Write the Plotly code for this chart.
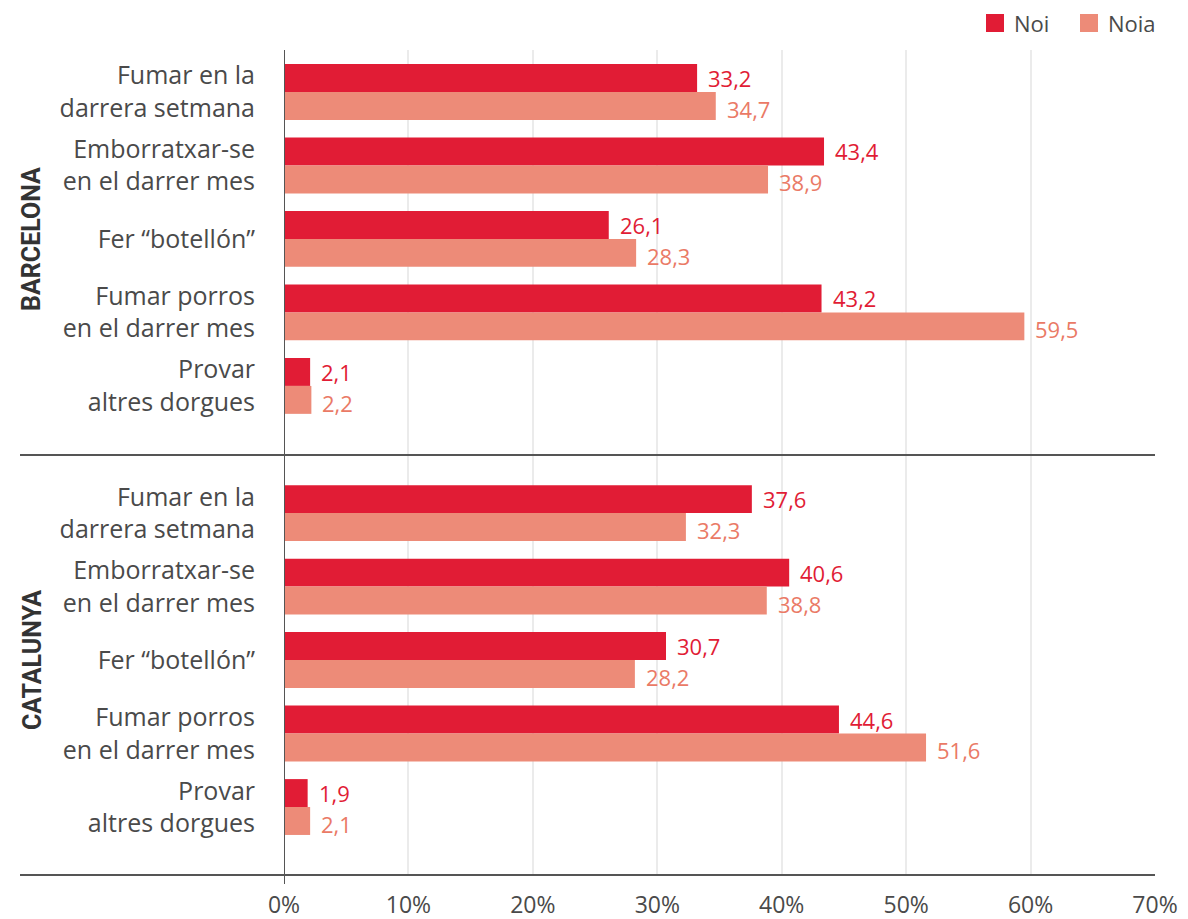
import plotly.graph_objects as go

categories = [
    "Fumar en la<br>darrera setmana",
    "Emborratxar-se<br>en el darrer mes",
    "Fer “botellón”",
    "Fumar porros<br>en el darrer mes",
    "Provar<br>altres dorgues",
]
groups = ["BARCELONA", "CATALUNYA"]
series = ["Noi", "Noia"]
noi_bcn = [33.2, 43.4, 26.1, 43.2, 2.1]
noia_bcn = [34.7, 38.9, 28.3, 59.5, 2.2]
noi_cat = [37.6, 40.6, 30.7, 44.6, 1.9]
noia_cat = [32.3, 38.8, 28.2, 51.6, 2.1]
x_ticks = [0, 10, 20, 30, 40, 50, 60, 70]

RED = "#e11c35"
SALMON = "#ed8b78"
RED_TXT = "#e11c35"
SALMON_TXT = "#ea7a66"
FONT = "Open Sans"
TXT = "#4a4a4a"
AXIS = "#555555"

# page geometry (the page body adds an 8px offset)
OFF = 8
W, H = 1188 - OFF, 919 - OFF
PL, PR, PT, PB = 284, 1155, 50, 875   # plot area in page pixels


def px_x(px):
    return (px - PL) / (PR - PL)


def px_y(py):
    return (PB - py) / (PB - PT)


gap = 0.73
pos_bcn = [i for i in range(len(categories))]
pos_cat = [i + len(categories) + gap for i in range(len(categories))]
ypos = pos_bcn + pos_cat
noi = noi_bcn + noi_cat
noia = noia_bcn + noia_cat

fig = go.Figure()
fig.add_trace(go.Bar(name=series[0], x=noi, y=ypos, orientation="h", showlegend=False,
                     marker=dict(color=RED, line=dict(width=0))))
fig.add_trace(go.Bar(name=series[1], x=noia, y=ypos, orientation="h", showlegend=False,
                     marker=dict(color=SALMON, line=dict(width=0))))

half = 0.19
for v, p in zip(noi, ypos):
    fig.add_annotation(x=v, y=p - half, text=f"{v:.1f}".replace(".", ","),
                       xanchor="left", yanchor="middle", xshift=9, showarrow=False,
                       font=dict(family=FONT, size=22, color=RED_TXT))
for v, p in zip(noia, ypos):
    fig.add_annotation(x=v, y=p + half, text=f"{v:.1f}".replace(".", ","),
                       xanchor="left", yanchor="middle", xshift=9, yshift=-3, showarrow=False,
                       font=dict(family=FONT, size=22, color=SALMON_TXT))

# group labels
group_centers = [sum(pos_bcn) / len(pos_bcn), sum(pos_cat) / len(pos_cat)]
for g, c in zip(groups, group_centers):
    fig.add_annotation(x=px_x(32), xref="paper", y=c, yref="y", text=f"<b>{g}</b>",
                       textangle=-90, showarrow=False, xanchor="center", yanchor="middle",
                       font=dict(family="Roboto", size=25, color="#333333"))

sep = pos_bcn[-1] + 0.94
fig.add_shape(type="line", xref="paper", yref="y", x0=px_x(20), x1=1, y0=sep, y1=sep,
              line=dict(color=AXIS, width=2))
fig.add_shape(type="line", xref="paper", yref="paper", x0=px_x(20), x1=1, y0=0, y1=0,
              line=dict(color=AXIS, width=2))
fig.add_shape(type="line", xref="x", yref="paper", x0=0, x1=0, y0=px_y(884), y1=1,
              line=dict(color=AXIS, width=2))

# legend (drawn manually so the swatches match the reference size)
leg = [(series[0], RED, 986, 1012), (series[1], SALMON, 1080, 1106)]
for name, col, sx, tx in leg:
    fig.add_shape(type="rect", xref="paper", yref="paper",
                  x0=px_x(sx), x1=px_x(sx + 18), y0=px_y(32), y1=px_y(14),
                  fillcolor=col, line=dict(width=0))
    fig.add_annotation(x=px_x(tx), y=px_y(23), xref="paper", yref="paper", text=name,
                       xanchor="left", yanchor="middle", showarrow=False,
                       font=dict(family=FONT, size=22, color=TXT))

fig.update_layout(
    width=W, height=H,
    margin=dict(l=PL - OFF, r=W - (PR - OFF), t=PT - OFF, b=H - (PB - OFF), autoexpand=False),
    paper_bgcolor="white", plot_bgcolor="white",
    barmode="group", bargap=0.24, bargroupgap=0,
    font=dict(family=FONT, color=TXT),
    showlegend=False,
    xaxis=dict(range=[0, 70], tickvals=x_ticks, ticktext=[f"{t}%" for t in x_ticks],
               showgrid=True, gridcolor="#ebebeb", gridwidth=2, zeroline=False,
               showline=False, ticks="", tickfont=dict(family=FONT, size=23, color=TXT),
               ticklabelstandoff=14, automargin=False, fixedrange=True),
    yaxis=dict(range=[ypos[-1] + 0.925, -0.571], tickvals=ypos,
               ticktext=categories + categories, showgrid=False, zeroline=False,
               showline=False, ticks="", tickfont=dict(family=FONT, size=25, color=TXT),
               ticklabelstandoff=28, automargin=False, fixedrange=True),
)

fig.write_html("out.html")
